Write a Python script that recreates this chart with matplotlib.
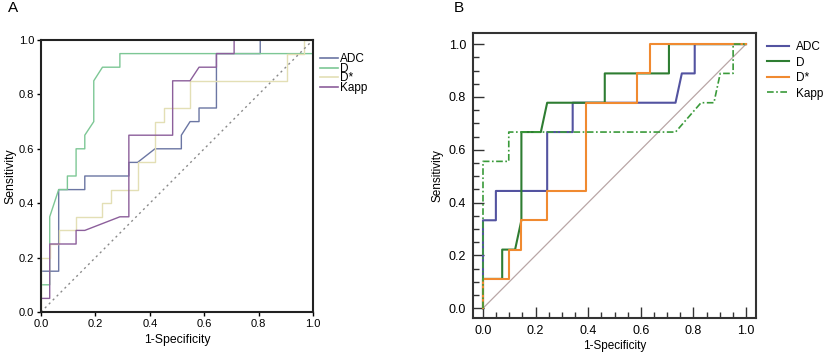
import matplotlib
matplotlib.use("Agg")
import matplotlib.pyplot as plt
from matplotlib.ticker import MultipleLocator

plt.rcParams['font.family'] = ['Liberation Sans', 'DejaVu Sans']

# ---------------- Panel A data (1-Specificity, Sensitivity) ----------------
a_adc_x = [0, 0, 0.065, 0.065, 0.161, 0.161, 0.323, 0.323, 0.355, 0.419, 0.516, 0.516, 0.548, 0.581, 0.581, 0.645, 0.645, 0.806, 0.806, 1.0]
a_adc_y = [0, 0.15, 0.15, 0.45, 0.45, 0.5, 0.5, 0.55, 0.55, 0.6, 0.6, 0.65, 0.7, 0.7, 0.75, 0.75, 0.95, 0.95, 1.0, 1.0]

a_d_x = [0, 0, 0.032, 0.032, 0.065, 0.097, 0.097, 0.129, 0.129, 0.161, 0.161, 0.194, 0.194, 0.226, 0.290, 0.290, 1.0, 1.0]
a_d_y = [0, 0.1, 0.1, 0.35, 0.45, 0.45, 0.5, 0.5, 0.6, 0.6, 0.65, 0.7, 0.85, 0.9, 0.9, 0.95, 0.95, 1.0]

a_dstar_x = [0, 0, 0.032, 0.032, 0.065, 0.065, 0.129, 0.129, 0.226, 0.226, 0.258, 0.258, 0.355, 0.355, 0.419, 0.419, 0.452, 0.452, 0.548, 0.548, 0.903, 0.903, 0.968, 0.968, 1.0]
a_dstar_y = [0, 0.2, 0.2, 0.25, 0.25, 0.3, 0.3, 0.35, 0.35, 0.4, 0.4, 0.45, 0.45, 0.55, 0.55, 0.7, 0.7, 0.75, 0.75, 0.85, 0.85, 0.95, 0.95, 1.0, 1.0]

a_kapp_x = [0, 0, 0.032, 0.032, 0.129, 0.129, 0.161, 0.290, 0.323, 0.323, 0.484, 0.484, 0.548, 0.581, 0.645, 0.645, 0.710, 0.710, 1.0]
a_kapp_y = [0, 0.05, 0.05, 0.25, 0.25, 0.3, 0.3, 0.35, 0.35, 0.65, 0.65, 0.85, 0.85, 0.9, 0.9, 0.95, 0.95, 1.0, 1.0]

# ---------------- Panel B data ----------------
b_adc_x = [0, 0, 0.049, 0.049, 0.244, 0.244, 0.341, 0.341, 0.732, 0.756, 0.805, 0.805, 1.0]
b_adc_y = [0, 0.333, 0.333, 0.444, 0.444, 0.667, 0.667, 0.778, 0.778, 0.889, 0.889, 1.0, 1.0]

b_d_x = [0, 0, 0.073, 0.073, 0.122, 0.146, 0.146, 0.220, 0.244, 0.463, 0.463, 0.707, 0.707, 1.0]
b_d_y = [0, 0.111, 0.111, 0.222, 0.222, 0.333, 0.667, 0.667, 0.778, 0.778, 0.889, 0.889, 1.0, 1.0]

b_dstar_x = [0, 0, 0.098, 0.098, 0.146, 0.146, 0.244, 0.244, 0.390, 0.390, 0.585, 0.585, 0.634, 0.634, 1.0]
b_dstar_y = [0, 0.111, 0.111, 0.222, 0.222, 0.333, 0.333, 0.444, 0.444, 0.778, 0.778, 0.889, 0.889, 1.0, 1.0]

b_kapp_x = [0, 0, 0.098, 0.098, 0.732, 0.829, 0.878, 0.902, 0.951, 0.951, 1.0]
b_kapp_y = [0, 0.556, 0.556, 0.667, 0.667, 0.778, 0.778, 0.889, 0.889, 1.0, 1.0]

labels = ["ADC", "D", "D*", "Kapp"]
ticks = [0.0, 0.2, 0.4, 0.6, 0.8, 1.0]
tick_labels = ["0.0", "0.2", "0.4", "0.6", "0.8", "1.0"]

fig = plt.figure(figsize=(8.24, 3.53), dpi=100)

# ---------------- Panel A ----------------
axA = fig.add_axes([41/824, 1-312/353, 272/824, 272/353])
colsA = ["#6b76a3", "#7dc795", "#e3dfb5", "#8c5f9b"]
for (x, y), c, lab in zip([(a_adc_x, a_adc_y), (a_d_x, a_d_y), (a_dstar_x, a_dstar_y), (a_kapp_x, a_kapp_y)], colsA, labels):
    axA.plot(x, y, color=c, lw=1.0, label=lab)
axA.plot([0, 1], [0, 1], color="#8a8a8a", lw=1.0, linestyle=(0, (1.5, 2.5)))
axA.set_xlim(0, 1)
axA.set_ylim(0, 1)
axA.set_xticks(ticks)
axA.set_xticklabels(tick_labels)
axA.set_yticks(ticks)
axA.set_yticklabels(tick_labels)
for s in axA.spines.values():
    s.set_linewidth(1.5)
    s.set_color("#222222")
axA.tick_params(direction="out", length=3, width=1, labelsize=8, pad=2)
axA.set_xlabel("1-Specificity", fontsize=8.8, labelpad=4)
axA.set_ylabel("Sensitivity", fontsize=8.8, labelpad=2)
legA = fig.legend(loc="upper left", bbox_to_anchor=(320/824, 1-53/353), frameon=False,
                  fontsize=8.5, handlelength=1.5, handletextpad=0.2, labelspacing=-0.2,
                  borderpad=0, borderaxespad=0)
for h in legA.get_lines():
    h.set_linewidth(1.2)
fig.text(8/824, 1-8/353, "A", fontsize=11, ha="left", va="center")

# ---------------- Panel B ----------------
axB = fig.add_axes([473/824, 1-318/353, 283/824, 285/353])
colsB = ["#5353a0", "#2e7d32", "#f08a30", "#3a9a3a"]
axB.plot([0, 1], [0, 1], color="#b9a6a6", lw=0.9)
axB.plot(b_adc_x, b_adc_y, color=colsB[0], lw=1.5, label="ADC")
axB.plot(b_d_x, b_d_y, color=colsB[1], lw=1.5, label="D")
axB.plot(b_dstar_x, b_dstar_y, color=colsB[2], lw=1.5, label="D*")
axB.plot(b_kapp_x, b_kapp_y, color=colsB[3], lw=1.2, label="Kapp", linestyle=(0, (4, 1.5, 1, 1.5)))
axB.set_xlim(-0.038, 1.038)
axB.set_ylim(-0.037, 1.042)
axB.set_xticks(ticks)
axB.set_xticklabels(tick_labels)
axB.set_yticks(ticks)
axB.set_yticklabels(tick_labels)
axB.xaxis.set_minor_locator(MultipleLocator(0.05))
axB.yaxis.set_minor_locator(MultipleLocator(0.05))
for s in axB.spines.values():
    s.set_linewidth(1.5)
    s.set_color("#333333")
axB.tick_params(which="major", direction="in", length=8, width=1, labelsize=9, pad=5, color="#333333")
axB.tick_params(which="minor", direction="in", length=4, width=1, color="#333333")
axB.set_xlabel("1-Specificity", fontsize=8.5, labelpad=2)
axB.set_ylabel("Sensitivity", fontsize=8.5, labelpad=4)
legB = fig.legend(handles=axB.get_lines()[1:], loc="upper left", bbox_to_anchor=(767/824, 1-41/353),
                  frameon=False, fontsize=8.5, handlelength=1.9, handletextpad=0.55, labelspacing=0.3,
                  borderpad=0, borderaxespad=0)
fig.text(459/824, 1-8/353, "B", fontsize=11, ha="center", va="center")

fig.savefig("out.png", dpi=100)
